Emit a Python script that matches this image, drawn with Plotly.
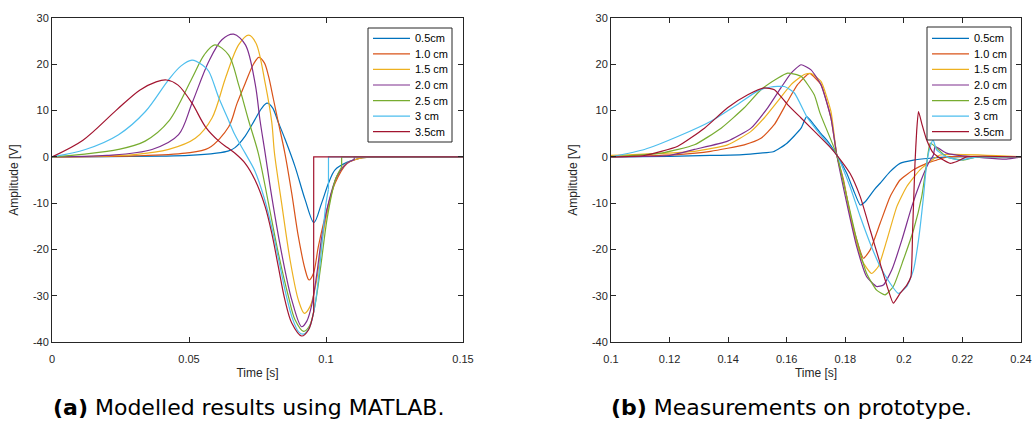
import plotly.graph_objects as go

# ---------------- data ----------------
series_names = ["0.5cm", "1.0 cm", "1.5 cm", "2.0 cm", "2.5 cm", "3 cm", "3.5cm"]
colors = ["#0072BD", "#D95319", "#EDB120", "#7E2F8E", "#77AC30", "#4DBEEE", "#A2142F"]

# (a) Modelled results (time [s], amplitude [V])
t_05m = [0, 0.02, 0.04, 0.05, 0.06, 0.0645, 0.0668, 0.0705, 0.074, 0.0765, 0.0785, 0.0805, 0.0825, 0.085, 0.0887, 0.0924, 0.0956, 0.0984, 0.1009, 0.1033, 0.1076, 0.1124, 0.12, 0.15]
v_05m = [0, 0.05, 0.15, 0.3, 0.8, 1.3, 2.0, 4.5, 8.0, 10.5, 11.6, 10.6, 7.6, 3.9, -2.1, -9.3, -14.2, -10, -5.7, -2.8, -1.2, -0.3, 0, 0]

t_10m = [0, 0.03, 0.0487, 0.0572, 0.0645, 0.0675, 0.0706, 0.0735, 0.0755, 0.0775, 0.0790, 0.0808, 0.0824, 0.085, 0.0875, 0.0899, 0.0924, 0.0938, 0.0954, 0.0972, 0.1003, 0.1033, 0.1076, 0.1124, 0.12, 0.15]
v_10m = [0, 0.2, 0.8, 1.9, 6.5, 11.5, 16.0, 20.0, 21.5, 20.3, 17.5, 12.5, 7.97, 0.77, -7.9, -17.2, -24.4, -26.6, -25.2, -19.4, -11.5, -5.7, -1.5, -0.3, 0, 0]

t_15m = [0, 0.03, 0.0426, 0.0523, 0.0584, 0.0633, 0.0681, 0.0718, 0.0745, 0.0779, 0.0802, 0.0812, 0.0838, 0.0869, 0.0899, 0.0921, 0.0942, 0.0966, 0.0984, 0.1009, 0.1039, 0.1076, 0.1124, 0.1152, 0.11521, 0.15]
v_15m = [0, 0.5, 1.6, 4.0, 8.4, 17, 24.2, 26.3, 24.5, 15.6, 7.5, 0.77, -10, -22.3, -30.9, -33.8, -32.3, -26.6, -18.7, -10.75, -4.3, -1.4, -0.3, -0.1, 0, 0]

t_20m = [0, 0.02, 0.0365, 0.0462, 0.0511, 0.0572, 0.0620, 0.0663, 0.0706, 0.0742, 0.0759, 0.0778, 0.0802, 0.0838, 0.0875, 0.0911, 0.0930, 0.0948, 0.0966, 0.0984, 0.1009, 0.1039, 0.1076, 0.1103, 0.11031, 0.15]
v_20m = [0, 0.3, 1.6, 4.8, 11.6, 20.6, 25.3, 26.5, 24.2, 15.6, 7.97, 0.77, -8.6, -20.8, -30.9, -36.7, -35.5, -32, -25.5, -17.5, -10.0, -4.3, -1.4, -0.6, 0, 0]

t_25m = [0, 0.012, 0.0243, 0.034, 0.0426, 0.0511, 0.0555, 0.0594, 0.0645, 0.0681, 0.0717, 0.0753, 0.079, 0.0826, 0.0863, 0.0887, 0.0918, 0.0940, 0.0960, 0.0980, 0.1005, 0.1035, 0.1057, 0.10571, 0.15]
v_25m = [0, 0.6, 1.6, 3.4, 7.7, 17, 22, 24.2, 22, 15.6, 7.97, 0.77, -10, -20.8, -30.2, -35.2, -37.7, -36.5, -32, -24, -13, -4.8, -2.2, 0, 0]

t_30m = [0, 0.0122, 0.0243, 0.0341, 0.0426, 0.0470, 0.0511, 0.0550, 0.0572, 0.0609, 0.0640, 0.0668, 0.0705, 0.0740, 0.0775, 0.0805, 0.0830, 0.0855, 0.0878, 0.0900, 0.0918, 0.0940, 0.0960, 0.0980, 0.1000, 0.1009, 0.10091, 0.15]
v_30m = [0, 1.6, 4.8, 9.8, 16.7, 19.6, 20.9, 19.8, 18.5, 12.7, 8.5, 4.7, 0.8, -3.0, -9.0, -16.0, -23.0, -30.0, -35.0, -37.8, -38.3, -36.8, -32, -22, -10, -7.0, 0, 0]

t_35m = [0, 0.0113, 0.0235, 0.032, 0.0380, 0.0418, 0.0460, 0.0511, 0.0560, 0.0609, 0.0640, 0.0668, 0.0705, 0.0741, 0.0778, 0.0802, 0.0826, 0.085, 0.0875, 0.0911, 0.0936, 0.0955, 0.09551, 0.15]
v_35m = [0, 3.6, 10.1, 14.4, 16.2, 16.6, 15.5, 11.6, 6.5, 3.4, 2.0, 0.77, -1.4, -5.0, -10.75, -16.5, -23.7, -30.9, -35.9, -38.7, -37.4, -33.5, 0, 0]

# (b) Measurements on prototype
t_05p = [0.1, 0.12, 0.134, 0.145, 0.151, 0.1554, 0.16, 0.1649, 0.1668, 0.169, 0.1717, 0.1737, 0.1771, 0.1805, 0.1828, 0.1851, 0.1868, 0.1900, 0.1919, 0.1953, 0.1987, 0.2033, 0.209, 0.215, 0.24]
v_05p = [0, 0.1, 0.3, 0.5, 0.8, 1.1, 2.9, 6.2, 8.7, 7.2, 5.0, 3.6, 0.4, -3.55, -7.2, -10.4, -9.7, -7.0, -5.7, -3.2, -1.4, -0.7, -0.3, 0, 0]

t_10p = [0.1, 0.1228, 0.134, 0.1455, 0.1512, 0.1558, 0.1603, 0.1637, 0.1671, 0.168, 0.1717, 0.1751, 0.1771, 0.1794, 0.1816, 0.1839, 0.1862, 0.1885, 0.1919, 0.1953, 0.1987, 0.2033, 0.2078, 0.2112, 0.215, 0.24]
v_10p = [0, 0.5, 1.2, 2.6, 4.0, 7.0, 12, 15.6, 17.8, 18, 15.6, 8.4, 0.4, -5, -12.2, -17.9, -21.9, -20.1, -14.35, -8.6, -5, -2.8, -1.4, -0.7, 0, 0]

t_15p = [0.1, 0.1285, 0.1398, 0.1478, 0.1523, 0.1569, 0.1615, 0.166, 0.1683, 0.1717, 0.1751, 0.1771, 0.18, 0.1828, 0.1856, 0.1890, 0.1913, 0.1942, 0.1976, 0.201, 0.2055, 0.209, 0.2124, 0.24]
v_15p = [0.3, 1.2, 2.6, 5.5, 8.4, 12, 15.6, 17.8, 18.0, 16.3, 9.8, 0.4, -7.2, -15.8, -22.3, -25.2, -23.7, -18, -10.75, -6.4, -2.8, -1.0, 0.4, 0]

t_20p = [0.1, 0.12, 0.1285, 0.1398, 0.1478, 0.1535, 0.158, 0.1615, 0.1649, 0.1683, 0.1717, 0.1751, 0.1771, 0.1805, 0.1839, 0.1873, 0.1907, 0.1930, 0.1959, 0.1993, 0.2027, 0.2055, 0.2084, 0.2101, 0.2107, 0.2146, 0.22, 0.235, 0.24]
v_20p = [0, 0.3, 1.6, 3.4, 6.2, 10.6, 14.9, 18.1, 19.9, 18.8, 15.6, 8.4, 0.4, -10, -19.4, -25.9, -28, -27.7, -24.4, -18, -10.75, -5.7, -1.4, 0.4, 2.2, 0.8, 0.2, -0.5, 0]

t_25p = [0.1, 0.1171, 0.1285, 0.1376, 0.1455, 0.1512, 0.1569, 0.1603, 0.1649, 0.1694, 0.1714, 0.1771, 0.1805, 0.1839, 0.1873, 0.1907, 0.1936, 0.1964, 0.1998, 0.2033, 0.2061, 0.2078, 0.209, 0.2107, 0.2146, 0.2203, 0.225, 0.24]
v_25p = [0, 0.8, 2.6, 6.2, 10.6, 14.5, 17, 18.1, 17.4, 13.4, 9.4, 0.4, -8.6, -17.9, -25.2, -28.8, -29.8, -28, -22.3, -15.8, -8.6, -1.4, 3, 2.2, 0, -0.7, 0, 0]

t_30p = [0.1, 0.1114, 0.1228, 0.1341, 0.1432, 0.15, 0.1546, 0.1592, 0.1626, 0.1671, 0.1706, 0.1771, 0.1816, 0.1851, 0.1885, 0.1919, 0.1953, 0.1981, 0.201, 0.2033, 0.205, 0.2067, 0.2078, 0.209, 0.2100, 0.2112, 0.2146, 0.2192, 0.225, 0.24]
v_30p = [0, 1.6, 4.4, 7.7, 11.3, 14.2, 15.1, 15.2, 13.8, 8.4, 5.5, 0.4, -6.4, -12.9, -18.7, -23.7, -27.3, -29.5, -28, -24.4, -18, -8.6, -1.4, 2.2, 3.65, 1.5, 0, -0.7, 0, 0]

t_35p = [0.1, 0.1114, 0.1228, 0.1319, 0.1398, 0.1467, 0.1523, 0.1558, 0.1603, 0.1649, 0.1706, 0.1751, 0.1771, 0.1816, 0.1851, 0.1885, 0.1919, 0.1947, 0.1964, 0.1987, 0.201, 0.2024, 0.2030, 0.2038, 0.2044, 0.2050, 0.2061, 0.2078, 0.2101, 0.2135, 0.2158, 0.2181, 0.2215, 0.24]
v_35p = [0, 0.3, 2.3, 6.2, 10.6, 13.4, 14.9, 14.5, 11.3, 8.4, 4.8, 1.9, 0.4, -3.55, -8.6, -15.8, -23, -28.8, -31.6, -29.5, -27.7, -25.9, -15.8, -1.4, 5.8, 9.8, 7.25, 3.65, 0.8, -0.7, -1.4, -1.0, 0, 0]

model_t = [t_05m, t_10m, t_15m, t_20m, t_25m, t_30m, t_35m]
model_v = [v_05m, v_10m, v_15m, v_20m, v_25m, v_30m, v_35m]
meas_t = [t_05p, t_10p, t_15p, t_20p, t_25p, t_30p, t_35p]
meas_v = [v_05p, v_10p, v_15p, v_20p, v_25p, v_30p, v_35p]

y_ticks = [-40, -30, -20, -10, 0, 10, 20, 30]
y_ticktext = ["-40", "-30", "-20", "-10", "0", "10", "20", "30"]
xa_ticks = [0, 0.05, 0.1, 0.15]
xa_ticktext = ["0", "0.05", "0.1", "0.15"]
xb_ticks = [0.1, 0.12, 0.14, 0.16, 0.18, 0.2, 0.22, 0.24]
xb_ticktext = ["0.1", "0.12", "0.14", "0.16", "0.18", "0.2", "0.22", "0.24"]

caption_a = "<b>(a)</b> Modelled results using MATLAB."
caption_b = "<b>(b)</b> Measurements on prototype."

# ---------------- figure ----------------
W, H = 1035, 431
AX = "#262626"
FONT = "Liberation Sans, Arial, sans-serif"
CAPFONT = "DejaVu Sans, sans-serif"
LW = 1.2


def px(x):
    return x / W


def py(y):
    return 1 - y / H


fig = go.Figure()


def add_curve(t, v, color, xa, ya, smoothing):
    # split at a vertical jump (two nearly equal time stamps) so the spline does not overshoot
    jump = None
    for k in range(len(t) - 1):
        if t[k + 1] - t[k] < 1e-4:
            jump = k
            break
    if jump is None:
        fig.add_trace(go.Scatter(x=t, y=v, mode="lines", showlegend=False, hoverinfo="skip",
                                 line=dict(color=color, width=LW, shape="spline", smoothing=smoothing),
                                 xaxis=xa, yaxis=ya))
    else:
        fig.add_trace(go.Scatter(x=t[:jump + 1], y=v[:jump + 1], mode="lines", showlegend=False, hoverinfo="skip",
                                 line=dict(color=color, width=LW, shape="spline", smoothing=smoothing),
                                 xaxis=xa, yaxis=ya))
        fig.add_trace(go.Scatter(x=t[jump:], y=v[jump:], mode="lines", showlegend=False, hoverinfo="skip",
                                 line=dict(color=color, width=LW, shape="linear"),
                                 xaxis=xa, yaxis=ya))


for i in range(len(series_names)):
    add_curve(model_t[i], model_v[i], colors[i], "x", "y", 0.9)
for i in range(len(series_names)):
    add_curve(meas_t[i], meas_v[i], colors[i], "x2", "y2", 0.5)

axis_common = dict(showline=True, linecolor=AX, linewidth=1, mirror="ticks", ticks="inside",
                   ticklen=5, tickcolor=AX, tickwidth=1, showgrid=False, zeroline=False,
                   automargin=False, tickfont=dict(family=FONT, size=11, color=AX))

# manual MATLAB-style legends (box, line samples, labels)
shapes = []
annotations = []
for (bx0, bx1, by0, by1, lx0, lx1, tx) in [(368, 452, 28, 142, 373, 410, 413),
                                            (927, 1011, 27, 140, 932, 969, 972)]:
    shapes.append(dict(type="rect", xref="paper", yref="paper", x0=px(bx0), x1=px(bx1), y0=py(by1), y1=py(by0),
                       line=dict(color=AX, width=1), fillcolor="white", layer="above"))
    for k, name in enumerate(series_names):
        yc = 38.3 + k * 15.57
        shapes.append(dict(type="line", xref="paper", yref="paper", x0=px(lx0), x1=px(lx1), y0=py(yc), y1=py(yc),
                           line=dict(color=colors[k], width=LW), layer="above"))
        annotations.append(dict(text=name, x=px(tx), y=py(yc), xref="paper", yref="paper", showarrow=False,
                                xanchor="left", yanchor="middle", font=dict(family=FONT, size=11, color="#000")))

annotations += [
    dict(text=caption_a, x=px(248), y=py(407), xref="paper", yref="paper", showarrow=False,
         xanchor="center", yanchor="middle", font=dict(family=CAPFONT, size=22, color="#000")),
    dict(text=caption_b, x=px(791), y=py(407), xref="paper", yref="paper", showarrow=False,
         xanchor="center", yanchor="middle", font=dict(family=CAPFONT, size=22, color="#000")),
]

title_font = dict(family=FONT, size=12, color=AX)
xaxis_extra = dict(ticklabelstandoff=7)
fig.update_layout(
    width=W, height=H, margin=dict(l=0, r=0, t=0, b=0, autoexpand=False),
    paper_bgcolor="white", plot_bgcolor="white", showlegend=False,
    xaxis=dict(domain=[px(52), px(463)], range=[0, 0.15], tickvals=xa_ticks, ticktext=xa_ticktext,
               anchor="y", title=dict(text="Time [s]", font=title_font, standoff=4), **axis_common, **xaxis_extra),
    yaxis=dict(domain=[py(342), py(18)], range=[-40, 30], tickvals=y_ticks, ticktext=y_ticktext,
               anchor="x", title=dict(text="Amplitude [V]", font=title_font, standoff=11), **axis_common),
    xaxis2=dict(domain=[px(611), px(1021)], range=[0.1, 0.24], tickvals=xb_ticks, ticktext=xb_ticktext,
                anchor="y2", title=dict(text="Time [s]", font=title_font, standoff=4), **axis_common, **xaxis_extra),
    yaxis2=dict(domain=[py(342), py(18)], range=[-40, 30], tickvals=y_ticks, ticktext=y_ticktext,
                anchor="x2", title=dict(text="Amplitude [V]", font=title_font, standoff=11), **axis_common),
    shapes=shapes,
    annotations=annotations,
)

# remove the default 8 px page margin so the figure sits at the window's top-left corner
fig.write_html("out.html", config={"displayModeBar": False, "staticPlot": True},
               post_script="document.body.style.margin='0';document.body.style.overflow='hidden';")
